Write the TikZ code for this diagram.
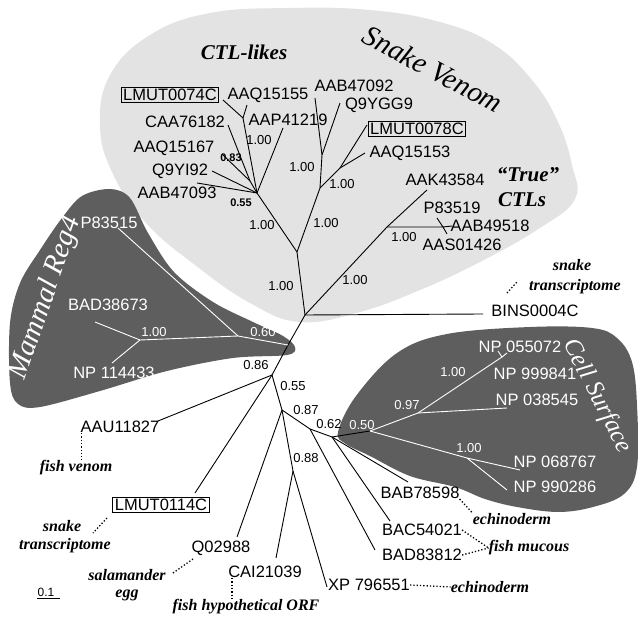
\documentclass[tikz,border=0pt]{standalone}
\usepackage{fontspec}
\setmainfont{Liberation Serif}
\setsansfont{Liberation Sans}
\usetikzlibrary{positioning}
\definecolor{venomgray}{gray}{0.89}
\definecolor{cladegray}{gray}{0.37}

\begin{document}
\begin{tikzpicture}[x=1pt, y=-1pt,
    tip/.style={font=\sffamily\fontsize{16.5}{18}\selectfont, inner sep=0pt},
    wtip/.style={tip, text=white},
    boxtip/.style={tip, draw, line width=0.8pt, inner sep=2pt},
    bs/.style={font=\sffamily\fontsize{13}{14}\selectfont, inner sep=0pt},
    wbs/.style={bs, text=white},
    smallbs/.style={font=\sffamily\bfseries\fontsize{11}{12}\selectfont, inner sep=0pt},
    note/.style={font=\bfseries\itshape\fontsize{16}{18}\selectfont, inner sep=0pt},
    group/.style={font=\itshape\fontsize{29}{30}\selectfont, inner sep=0pt},
    branch/.style={line width=0.9pt},
    wbranch/.style={branch, white},
    leader/.style={dotted, line width=1.3pt}
]
\useasboundingbox (0,0) rectangle (638,617);

% shaded clades
\fill[venomgray] plot[smooth cycle, tension=0.7] coordinates {
    (300,322) (360,312) (420,290) (480,262) (540,228) (575,199) (572,165)
    (558,122) (532,80) (493,44) (440,22) (370,10) (290,8) (210,13) (150,35)
    (110,75) (100,125) (112,172) (145,222) (195,265) (250,303)};
\fill[cladegray] plot[smooth cycle, tension=0.55] coordinates {
    (110,189) (130,198) (148,233) (174,272) (213,302) (253,322) (283,336)
    (295,347) (287,355) (233,358) (167,371) (100,391) (40,407) (18,404)
    (10,383) (10,323) (20,283) (40,250) (62,218) (82,196)};
\fill[cladegray] plot[smooth cycle, tension=0.6] coordinates {
    (338,432) (356,396) (397,353) (447,334) (530,327) (592,328) (617,338)
    (632,362) (637,405) (637,467) (624,494) (593,507) (558,512) (517,507)
    (485,499) (455,487) (410,476) (370,456) (346,444)};

% tree points
\coordinate (root) at (305,315);
\coordinate (up) at (297,252);
\coordinate (ctl) at (257,193);
\coordinate (ctlA) at (243,118);
\coordinate (ctlB) at (250,181);
\coordinate (sv) at (320,188);
\coordinate (svE) at (322,155);
\coordinate (svF) at (340,168);
\coordinate (true) at (387,227);
\coordinate (trueB) at (443,227);
\coordinate (mam) at (288,345);
\coordinate (mam60) at (238,336);
\coordinate (mam1) at (140,340);
\coordinate (n86) at (272,375);
\coordinate (n55) at (282,410);
\coordinate (n88) at (293,471);
\coordinate (n87) at (310,429);
\coordinate (n62) at (332,437);
\coordinate (cs) at (370,431);
\coordinate (csH) at (418,413);
\coordinate (csK) at (502,357);
\coordinate (csI) at (467,458);

% branch ends
\coordinate (e-lmut74) at (223,100);
\coordinate (e-aaq155) at (247,105);
\coordinate (e-aap) at (283,128);
\coordinate (e-caa) at (228,125);
\coordinate (e-aaq167) at (222,154);
\coordinate (e-q9yi) at (212,171);
\coordinate (e-aab093) at (197,183);
\coordinate (e-aab092) at (315,98);
\coordinate (e-q9ygg) at (340,103);
\coordinate (e-lmut78) at (367,125);
\coordinate (e-aaq153) at (365,153);
\coordinate (e-aak) at (427,190);
\coordinate (e-p835) at (437,218);
\coordinate (e-aab495) at (452,226);
\coordinate (e-aas) at (447,234);
\coordinate (e-bins) at (483,314);
\coordinate (e-p83515) at (118,228);
\coordinate (e-bad386) at (95,322);
\coordinate (e-np114) at (112,363);
\coordinate (e-aau) at (158,421);
\coordinate (e-lmut114) at (195,493);
\coordinate (e-q029) at (237,537);
\coordinate (e-cai) at (276,558);
\coordinate (e-xp) at (327,587);
\coordinate (e-bad838) at (375,550);
\coordinate (e-bac) at (390,521);
\coordinate (e-bab) at (408,482);
\coordinate (e-np055) at (498,351);
\coordinate (e-np999) at (507,353);
\coordinate (e-np038) at (507,408);
\coordinate (e-np068) at (520,470);
\coordinate (e-np990) at (507,490);

% branches
\draw[branch] (root) -- (up) -- (ctl);
\draw[branch] (up) -- (sv);
\draw[branch] (ctl) -- (ctlA) -- (e-lmut74);
\draw[branch] (ctlA) -- (e-aaq155);
\draw[branch] (ctl) -- (e-aap);
\draw[branch] (ctl) -- (ctlB) -- (e-caa);
\draw[branch] (ctlB) -- (e-aaq167);
\draw[branch] (ctl) -- (e-q9yi);
\draw[branch] (ctl) -- (e-aab093);
\draw[branch] (sv) -- (svE) -- (e-aab092);
\draw[branch] (svE) -- (e-q9ygg);
\draw[branch] (sv) -- (svF) -- (e-lmut78);
\draw[branch] (svF) -- (e-aaq153);
\draw[branch] (root) -- (true) -- (e-aak);
\draw[branch] (true) -- (trueB) -- (e-p835);
\draw[branch] (trueB) -- (e-aab495);
\draw[branch] (trueB) -- (e-aas);
\draw[branch] (root) -- (e-bins);
\draw[branch] (root) -- (mam) -- (n86);
\draw[wbranch] (mam) -- (mam60) -- (mam1) -- (e-bad386);
\draw[wbranch] (mam60) -- (e-p83515);
\draw[wbranch] (mam1) -- (e-np114);
\draw[branch] (n86) -- (e-aau);
\draw[branch] (n86) -- (e-lmut114);
\draw[branch] (n86) -- (n55) -- (e-q029);
\draw[branch] (n55) -- (n88) -- (e-cai);
\draw[branch] (n88) -- (e-xp);
\draw[branch] (n55) -- (n87) -- (e-bad838);
\draw[branch] (n87) -- (n62) -- (e-bac);
\draw[branch] (n62) -- (e-bab);
\draw[branch] (n62) -- (cs);
\draw[wbranch] (cs) -- (csH) -- (csK) -- (e-np055);
\draw[wbranch] (csK) -- (e-np999);
\draw[wbranch] (csH) -- (e-np038);
\draw[wbranch] (cs) -- (csI) -- (e-np068);
\draw[wbranch] (csI) -- (e-np990);

% tip labels
\node[boxtip] (lmut74) at (170,95) {LMUT0074C};
\node[tip] (aaq155) at (268,95) {AAQ15155};
\node[tip] (aap) at (288,120) {AAP41219};
\node[tip] (caa) at (185,122) {CAA76182};
\node[tip] (aaq167) at (174,148) {AAQ15167};
\node[tip] (q9yi) at (180,171) {Q9YI92};
\node[tip] (aab093) at (177,193) {AAB47093};
\node[tip] (aab092) at (354,86) {AAB47092};
\node[tip] (q9ygg) at (379,105) {Q9YGG9};
\node[boxtip] (lmut78) at (417,129) {LMUT0078C};
\node[tip] (aaq153) at (410,153) {AAQ15153};
\node[tip] (aak) at (445,180) {AAK43584};
\node[tip] (p835) at (452,208) {P83519};
\node[tip] (aab495) at (490,226) {AAB49518};
\node[tip] (aas) at (462,245) {AAS01426};
\node[tip] (bins) at (535,311) {BINS0004C};
\node[wtip] (p83515) at (109,223) {P83515};
\node[wtip] (bad386) at (108,305) {BAD38673};
\node[wtip] (np114) at (114,373) {NP 114433};
\node[wtip] (np055) at (520,347) {NP 055072};
\node[wtip] (np999) at (535,374) {NP 999841};
\node[wtip] (np038) at (537,400) {NP 038545};
\node[wtip] (np068) at (555,462) {NP 068767};
\node[wtip] (np990) at (555,487) {NP 990286};
\node[tip] (aau) at (120,427) {AAU11827};
\node[boxtip] (lmut114) at (161,505) {LMUT0114C};
\node[tip] (q029) at (221,548) {Q02988};
\node[tip] (cai) at (265,572) {CAI21039};
\node[tip] (xp) at (369,585) {XP 796551};
\node[tip] (bab) at (420,493) {BAB78598};
\node[tip] (bac) at (422,530) {BAC54021};
\node[tip] (bad838) at (422,555) {BAD83812};

% support values
\node[bs] (s-a) at (259,140) {1.00};
\node[smallbs] (s-b) at (231,158) {0.83};
\node[smallbs] (s-ctl) at (241,203) {0.55};
\node[bs] (s-e) at (302,167) {1.00};
\node[bs] (s-f) at (342,184) {1.00};
\node[bs] (s-ctlup) at (262,225) {1.00};
\node[bs] (s-sv) at (326,223) {1.00};
\node[bs] (s-up) at (281,286) {1.00};
\node[bs] (s-true) at (355,280) {1.00};
\node[bs] (s-trueB) at (404,237) {1.00};
\node[wbs] (s-mam60) at (263,332) {0.60};
\node[wbs] (s-mam1) at (154,332) {1.00};
\node[bs] (s-n86) at (256,365) {0.86};
\node[bs] (s-n55) at (293,386) {0.55};
\node[bs] (s-n87) at (306,410) {0.87};
\node[bs] (s-n62) at (329,424) {0.62};
\node[bs] (s-n88) at (306,458) {0.88};
\node[wbs] (s-cs) at (362,425) {0.50};
\node[wbs] (s-csH) at (407,405) {0.97};
\node[wbs] (s-csK) at (453,372) {1.00};
\node[wbs] (s-csI) at (469,448) {1.00};

% clade names
\node[font=\bfseries\itshape\fontsize{21}{22}\selectfont] (ctllikes) at (244,52) {CTL-likes};
\node[group, rotate=-28] (snakevenom) at (433,69) {Snake Venom};
\node[font=\bfseries\itshape\fontsize{21}{22}\selectfont] (truectl) at (528,175) {“True”};
\node[font=\bfseries\itshape\fontsize{21}{22}\selectfont] (ctls) at (522,200) {CTLs};
\node[group, text=white, rotate=71] (mammal) at (46,298) {Mammal Reg4};
\node[group, text=white, font=\itshape\fontsize{25}{26}\selectfont, rotate=-63] (cellsurf) at (597,396) {Cell Surface};

% notes
\node[note] (snake1) at (572,265) {snake};
\node[note] (transc1) at (575,287) {transcriptome};
\node[note] (fishvenom) at (76,468) {fish venom};
\node[note] (snake2) at (62,526) {snake};
\node[note] (transc2) at (65,546) {transcriptome};
\node[note] (salam) at (127,575) {salamander};
\node[note] (egg) at (127,595) {egg};
\node[note] (orf) at (246,607) {fish hypothetical ORF};
\node[note] (ech1) at (512,519) {echinoderm};
\node[note] (mucous) at (529,548) {fish mucous};
\node[note] (ech2) at (490,587) {echinoderm};
\node[bs, font=\sffamily\fontsize{12}{13}\selectfont] (scale) at (46,592) {0.1};

% leaders
\coordinate (d-bins) at (507,293);
\coordinate (d-transc) at (517,282);
\coordinate (d-lmut) at (107,518);
\coordinate (d-snake) at (93,533);
\coordinate (d-q029) at (193,559);
\coordinate (d-salam) at (173,573);
\draw[leader] (d-bins) -- (d-transc);
\draw[leader] ([xshift=1pt]aau.south west) -- ([xshift=1pt]aau.south west |- fishvenom.north);
\draw[leader] (d-lmut) -- (d-snake);
\draw[leader] (d-q029) -- (d-salam);
\draw[leader] ([xshift=4pt]cai.south west) -- ([xshift=4pt]cai.south west |- orf.north);
\draw[leader] (xp.east) -- (ech2.west);
\draw[leader] (bab.south east) -- (ech1.north west);
\draw[leader] (bac.east) -- (mucous.west);
\draw[leader] (bad838.east) -- (mucous.west);

% scale bar
\draw[line width=0.9pt] (scale.south west) ++(0,2) -- ++(23,0);
\end{tikzpicture}
\end{document}
